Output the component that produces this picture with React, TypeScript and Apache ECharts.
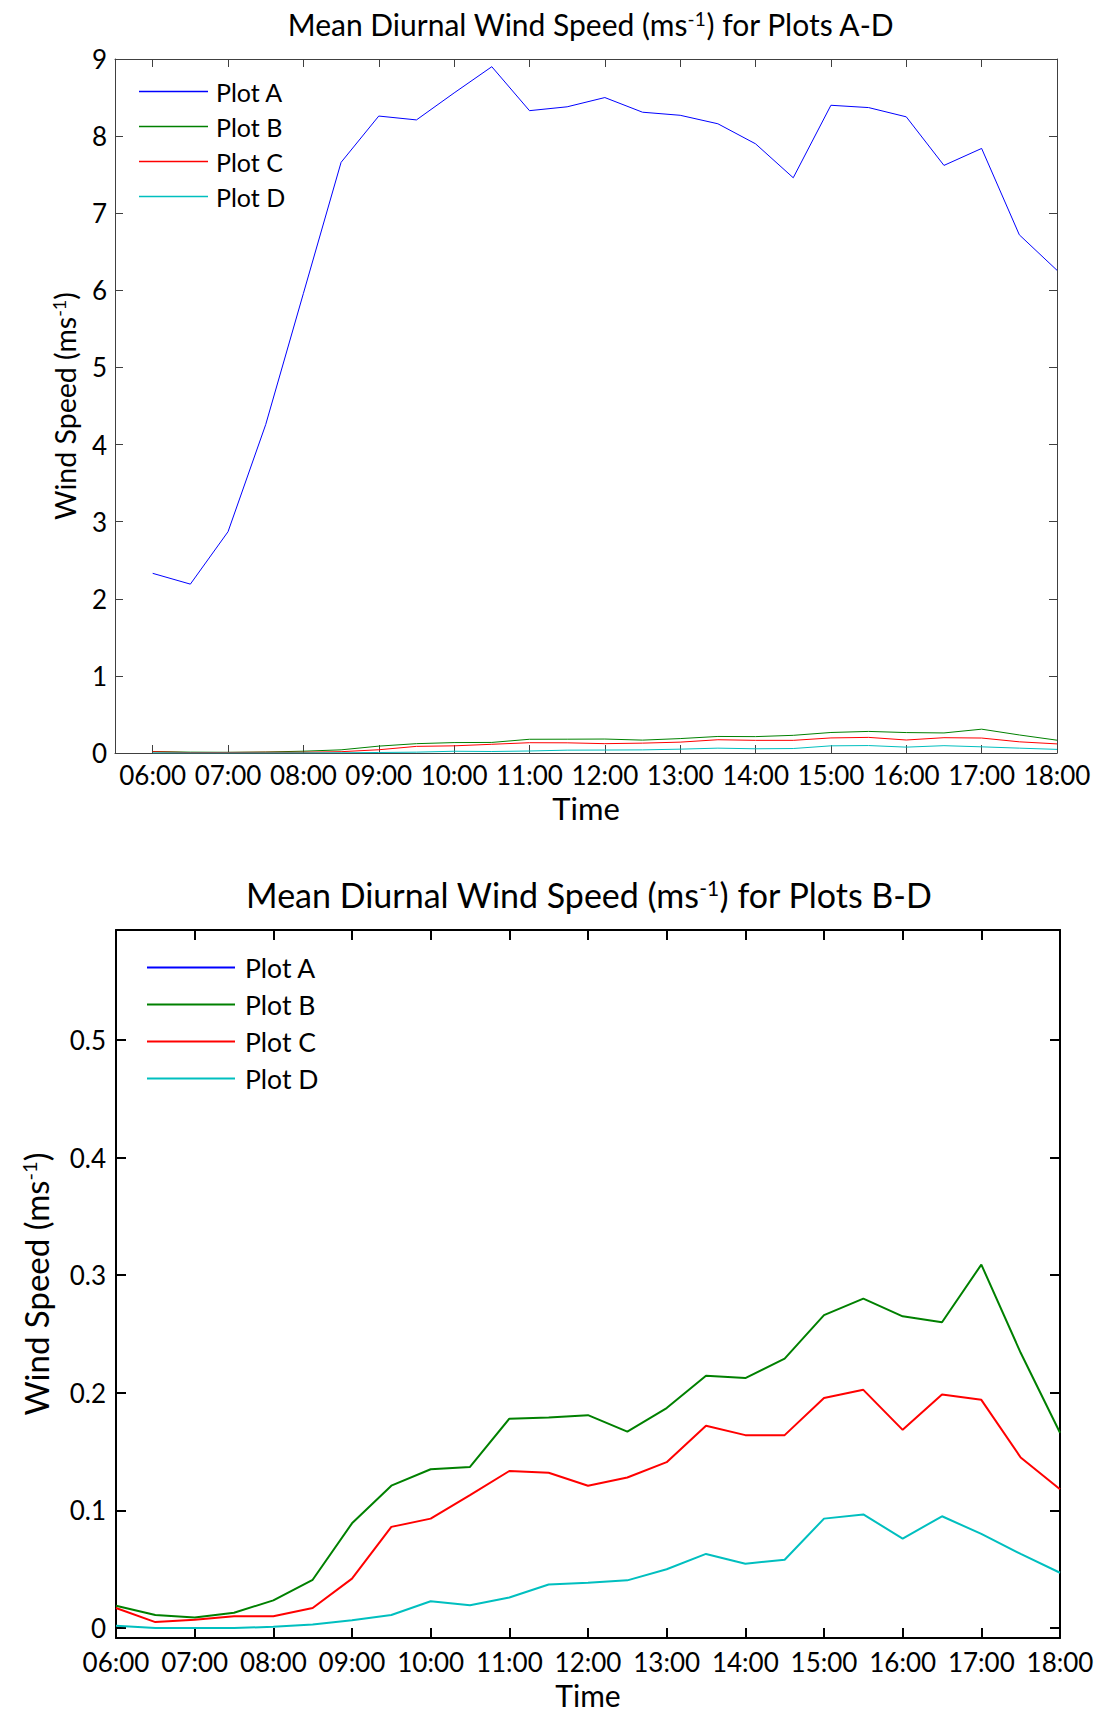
import React, { useEffect, useRef } from 'react';
import * as echarts from 'echarts';

const hours = [6, 6.5, 7, 7.5, 8, 8.5, 9, 9.5, 10, 10.5, 11, 11.5, 12, 12.5, 13, 13.5, 14, 14.5, 15, 15.5, 16, 16.5, 17, 17.5, 18];
const plotA = [2.33, 2.19, 2.87, 4.26, 5.96, 7.66, 8.26, 8.21, 8.56, 8.9, 8.33, 8.38, 8.5, 8.31, 8.27, 8.16, 7.9, 7.46, 8.4, 8.37, 8.25, 7.62, 7.84, 6.72, 6.26];
const plotB = [0.019, 0.011, 0.009, 0.013, 0.0235, 0.041, 0.089, 0.121, 0.135, 0.137, 0.178, 0.179, 0.181, 0.167, 0.187, 0.2145, 0.2125, 0.229, 0.266, 0.28, 0.265, 0.26, 0.309, 0.234, 0.166];
const plotC = [0.017, 0.005, 0.007, 0.01, 0.01, 0.017, 0.042, 0.086, 0.093, 0.113, 0.1335, 0.132, 0.121, 0.128, 0.141, 0.172, 0.164, 0.164, 0.1955, 0.2025, 0.1685, 0.1985, 0.194, 0.145, 0.118];
const plotD = [0.002, 0.0, 0.0, 0.0, 0.001, 0.003, 0.0065, 0.011, 0.0227, 0.0193, 0.026, 0.037, 0.0385, 0.0405, 0.05, 0.063, 0.0547, 0.058, 0.093, 0.0966, 0.076, 0.095, 0.08, 0.063, 0.047];
const seriesNames = ['Plot A', 'Plot B', 'Plot C', 'Plot D'];
const seriesColors = ['#0000ff', '#008000', '#ff0000', '#00bfbf'];
const hourTicks = [6, 7, 8, 9, 10, 11, 12, 13, 14, 15, 16, 17, 18];
const topYTicks = [0, 1, 2, 3, 4, 5, 6, 7, 8, 9];
const bottomYTicks = [0, 0.1, 0.2, 0.3, 0.4, 0.5];

const FONT = 'Lato';
const TOP_H = 826;
const BOTTOM_H = 886;

const pair = (ys: number[]) => hours.map((h, i) => [h, ys[i]]);
const hourFmt = (v: number) => (v < 10 ? '0' : '') + v + ':00';

function buildOption(isTop: boolean) {
  const axisColor = isTop ? '#404040' : '#000000';
  const axisWidth = isTop ? 1 : 2;
  const lineWidth = isTop ? 1 : 2;
  const tickLen = isTop ? 8 : 10;
  const xMin = isTop ? 5.5 : 6;
  const yMin = isTop ? 0 : -0.0085;
  const yMax = isTop ? 9 : 0.5935;
  const yTicks = isTop ? topYTicks : bottomYTicks;
  const titleSize = isTop ? 30 : 34;
  const nameSize = isTop ? 28.5 : 33;
  const legendSize = isTop ? 25 : 26.5;
  const tickSize = 26;
  const data = [plotA, plotB, plotC, plotD];
  const off = isTop ? 0 : 830 - TOP_H; // vertical shift of the bottom chart inside its box

  const axisLine = { show: true, onZero: false, lineStyle: { color: axisColor, width: axisWidth } };
  const tickStyle = { color: axisColor, width: isTop ? 1 : 2 };

  const xBase = {
    type: 'value',
    min: xMin,
    max: 18,
    axisLine,
    splitLine: { show: false },
    axisTick: { show: true, inside: true, length: tickLen, customValues: hourTicks, lineStyle: tickStyle },
  };
  const yBase = {
    type: 'value',
    min: yMin,
    max: yMax,
    axisLine,
    splitLine: { show: false },
    axisTick: { show: true, inside: true, length: tickLen, customValues: yTicks, lineStyle: tickStyle },
  };

  return {
    animation: false,
    backgroundColor: '#ffffff',
    title: {
      text: 'Mean Diurnal Wind Speed (ms{sup|-1}) for Plots ' + (isTop ? 'A-D' : 'B-D'),
      left: isTop ? 586 : 584,
      top: isTop ? 4 : 42 + off,
      textAlign: 'center',
      textStyle: {
        fontFamily: FONT,
        fontSize: titleSize,
        fontWeight: 'normal',
        color: '#000',
        rich: {
          sup: { fontFamily: FONT, fontSize: Math.round(titleSize * 0.62), color: '#000', verticalAlign: 'top' },
        },
      },
    },
    grid: isTop
      ? { left: 115, right: 45, top: 59, height: 694, outerBoundsMode: 'none', containLabel: false }
      : { left: 116, right: 42, top: 100 + off, height: 708, outerBoundsMode: 'none', containLabel: false },
    legend: {
      orient: 'vertical',
      left: isTop ? 134 : 142,
      top: isTop ? 74 : 119 + off,
      icon: 'rect',
      itemWidth: isTop ? 69 : 88,
      itemHeight: isTop ? 1.5 : 2,
      itemGap: 10,
      data: seriesNames,
      textStyle: {
        fontFamily: FONT,
        fontSize: legendSize,
        color: '#000',
        lineHeight: isTop ? 25 : 27,
        padding: [0, 0, 0, isTop ? 3 : 5],
      },
    },
    xAxis: [
      {
        ...xBase,
        position: 'bottom',
        axisLabel: {
          customValues: hourTicks,
          formatter: hourFmt,
          fontFamily: FONT,
          fontSize: tickSize,
          color: '#000',
          margin: isTop ? 9 : 11,
        },
        name: 'Time',
        nameLocation: 'middle',
        nameGap: isTop ? 38 : 32,
        nameTextStyle: { fontFamily: FONT, fontSize: isTop ? 31 : 30, color: '#000', lineHeight: isTop ? 31 : 30 },
      },
      { ...xBase, position: 'top', axisLabel: { show: false } },
    ],
    yAxis: [
      {
        ...yBase,
        position: 'left',
        axisLabel: {
          customValues: yTicks,
          formatter: (v: number) => (isTop ? String(v) : v === 0 ? '0' : v.toFixed(1)),
          fontFamily: FONT,
          fontSize: tickSize,
          color: '#000',
          margin: isTop ? 8 : 10,
        },
        name: 'Wind Speed (ms{sup|-1})',
        nameLocation: 'middle',
        nameRotate: 90,
        nameGap: isTop ? 36 : 64,
        nameTextStyle: {
          fontFamily: FONT,
          fontSize: nameSize,
          color: '#000',
          rich: {
            sup: { fontFamily: FONT, fontSize: Math.round(nameSize * 0.62), color: '#000', verticalAlign: 'top' },
          },
        },
      },
      { ...yBase, position: 'right', axisLabel: { show: false } },
    ],
    series: seriesNames.map((name, i) => ({
      name,
      type: 'line',
      xAxisIndex: 0,
      yAxisIndex: 0,
      data: pair(data[i]),
      symbol: 'none',
      showSymbol: false,
      clip: true,
      lineStyle: { color: seriesColors[i], width: lineWidth },
      itemStyle: { color: seriesColors[i] },
    })),
  };
}

function ChartBox({ isTop, height }: { isTop: boolean; height: number }) {
  const ref = useRef<HTMLDivElement>(null);
  useEffect(() => {
    if (!ref.current) return;
    const chart = echarts.init(ref.current, undefined, { renderer: 'svg' });
    chart.setOption(buildOption(isTop) as any);
    return () => chart.dispose();
  }, [isTop]);
  return <div ref={ref} style={{ width: 1102, height }} />;
}

export default function App() {
  useEffect(() => {
    document.body.style.margin = '0';
  }, []);
  return (
    <div style={{ width: 1102, height: 1712, background: '#fff' }}>
      <ChartBox isTop={true} height={TOP_H} />
      <ChartBox isTop={false} height={BOTTOM_H} />
    </div>
  );
}
